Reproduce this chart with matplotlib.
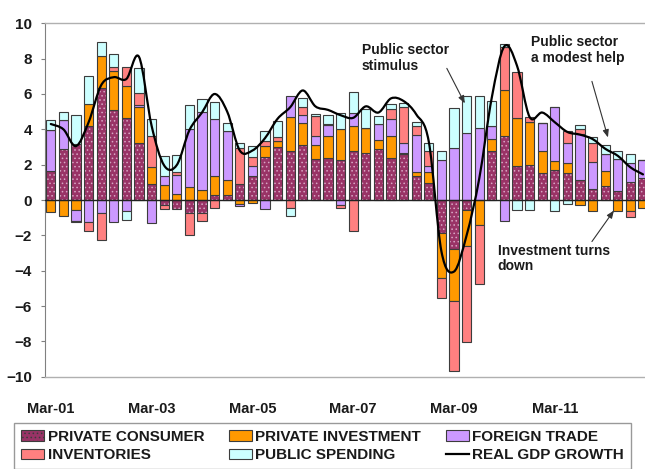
import matplotlib
matplotlib.use("Agg")
import matplotlib.pyplot as plt
from matplotlib.patches import Patch, PathPatch
from matplotlib.lines import Line2D
from matplotlib.path import Path

plt.rcParams["font.family"] = ["Liberation Sans", "DejaVu Sans"]
plt.rcParams["hatch.linewidth"] = 0.6

# Quarterly contributions to real GDP growth (percentage points), Mar-01 .. Dec-12
quarters = [f"{m}-{y:02d}" for y in range(1, 13) for m in ("Mar", "Jun", "Sep", "Dec")]
tick_labels = ["Mar-01", "Mar-03", "Mar-05", "Mar-07", "Mar-09", "Mar-11"]

private_consumer = [1.62, 2.89, 3.15, 4.21, 6.34, 5.12, 4.62, 3.20, 0.92, -0.30, -0.50, -0.72,
                    -0.73, 0.30, 0.30, 0.88, 1.38, 2.45, 2.98, 2.77, 3.10, 2.33, 2.35, 2.29,
                    2.77, 2.67, 2.90, 2.35, 2.60, 1.35, 0.96, -1.86, -2.80, -0.55, 0.00, 2.78,
                    3.60, 1.92, 2.00, 1.50, 1.72, 1.52, 1.16, 0.62, 0.80, 0.50, 1.00, 1.26]
private_investment = [-0.70, -0.88, -0.58, 1.22, 1.83, 2.18, 1.84, 2.05, 0.95, 0.85, 0.33, 0.73,
                      0.55, 1.05, 0.86, -0.20, -0.17, 0.60, 0.37, 1.90, 1.23, 0.76, 1.30, 1.75,
                      1.40, 1.42, 0.50, 1.25, 0.05, 0.25, 0.64, -2.55, -2.90, -2.07, -1.40, 0.65,
                      2.65, 2.70, 2.40, 1.28, 0.50, 0.58, -0.26, -0.64, 0.85, -0.60, -0.64, -0.45]
foreign_trade = [2.36, 1.66, -0.62, -1.22, -0.76, -1.25, -0.60, 0.15, -1.30, 0.50, 1.08, 3.30,
                 4.45, 3.25, 2.74, -0.15, 0.52, -0.49, 0.00, 1.22, 0.50, 0.52, 0.60, -0.28,
                 0.75, 0.00, 0.90, 1.00, 0.60, 2.10, 0.32, 2.28, 2.94, 3.79, 4.08, 0.78,
                 -1.20, 0.00, 0.00, 1.55, 3.05, 1.15, 2.55, 1.53, 0.93, 1.80, 1.10, 0.98]
inventories = [0.00, 0.00, -0.05, -0.55, -1.48, 0.25, 1.08, 0.65, 1.73, -0.22, 0.20, -1.25,
               -0.47, -0.45, 0.00, 2.08, 0.53, 0.28, 0.20, -0.45, 0.45, 1.14, 0.05, -0.18,
               -1.77, 0.00, 0.00, 0.53, 2.00, 0.47, 0.87, -1.13, -3.95, -5.44, -3.33, 0.00,
               2.40, 2.65, 0.30, 0.05, 0.00, 0.65, 0.32, 1.10, 0.00, 0.00, -0.32, 0.00]
public_spending = [0.53, 0.43, 1.64, 1.57, 0.77, 0.72, -0.55, 1.40, 1.00, 1.15, 0.93, 1.35,
                   0.72, 0.95, 0.47, 0.28, 0.60, 0.60, 0.90, -0.43, 0.50, 0.13, 0.50, 0.90,
                   1.20, 1.05, 0.47, 0.32, 0.25, 0.23, 0.45, 0.47, 2.27, 2.11, 1.80, 1.38,
                   0.20, -0.55, -0.58, 0.00, -0.62, -0.23, 0.20, 0.33, 0.52, 0.47, 0.52, 0.00]
real_gdp_growth = [4.30, 4.00, 3.05, 4.40, 6.50, 6.95, 6.85, 8.10, 4.20, 1.95, 1.98, 3.95,
                   4.95, 6.00, 5.00, 2.80, 2.80, 3.50, 4.60, 5.25, 6.20, 5.30, 5.10, 4.80,
                   4.65, 5.30, 4.95, 5.75, 5.60, 4.85, 3.30, -2.90, -4.05, -2.00, 1.20, 5.80,
                   8.70, 7.60, 4.70, 4.95, 4.40, 3.85, 3.70, 3.45, 2.90, 2.50, 1.85, 1.45]

series = [
    ("PRIVATE CONSUMER", private_consumer, "#993366"),
    ("PRIVATE INVESTMENT", private_investment, "#FF9900"),
    ("FOREIGN TRADE", foreign_trade, "#CC99FF"),
    ("INVENTORIES", inventories, "#FF8080"),
    ("PUBLIC SPENDING", public_spending, "#CCFFFF"),
]
EDGE = "#3c3c3c"
DOTS = "#d8a6c4"

fig = plt.figure(figsize=(6.45, 4.69), dpi=100)
W, H = 645, 469
ax = fig.add_axes([44.5 / W, (H - 376.7) / H, (649.3 - 44.5) / W, (376.7 - 23.3) / H])

x = list(range(len(quarters)))
width = 0.72
pos_base = [0.0] * len(x)
neg_base = [0.0] * len(x)
for name, vals, color in series:
    bottoms = []
    for i, v in enumerate(vals):
        if v >= 0:
            bottoms.append(pos_base[i])
            pos_base[i] += v
        else:
            bottoms.append(neg_base[i])
            neg_base[i] += v
    if name == "PRIVATE CONSUMER":
        # dotted pattern fill, then a separate dark outline
        ax.bar(x, vals, width, bottom=bottoms, color=color, hatch="....",
               edgecolor=DOTS, linewidth=0, zorder=2)
        ax.bar(x, vals, width, bottom=bottoms, fill=False, edgecolor=EDGE,
               linewidth=0.8, zorder=3)
    else:
        ax.bar(x, vals, width, bottom=bottoms, color=color, edgecolor=EDGE,
               linewidth=0.8, zorder=3)

ax.axhline(0, color="#222222", linewidth=1.0, zorder=4)

# smoothed GDP growth line (Catmull-Rom segments as cubic Bezier curves)
pts = list(zip(x, real_gdp_growth))
verts = [pts[0]]
codes = [Path.MOVETO]
n = len(pts)
for i in range(n - 1):
    p0 = pts[i - 1] if i > 0 else pts[i]
    p1 = pts[i]
    p2 = pts[i + 1]
    p3 = pts[i + 2] if i + 2 < n else pts[i + 1]
    c1 = (p1[0] + (p2[0] - p0[0]) / 6, p1[1] + (p2[1] - p0[1]) / 6)
    c2 = (p2[0] - (p3[0] - p1[0]) / 6, p2[1] - (p3[1] - p1[1]) / 6)
    verts += [c1, c2, p2]
    codes += [Path.CURVE4] * 3
ax.add_patch(PathPatch(Path(verts, codes), fill=False, edgecolor="black",
                       linewidth=1.6, zorder=5, capstyle="round", joinstyle="round"))

ax.set_xlim(-0.5, len(x) - 0.5)
ax.set_ylim(-10, 10)
ax.set_yticks(range(-10, 11, 2))
ax.set_xticks([quarters.index(t) for t in tick_labels])
ax.set_xticklabels(tick_labels)
ax.tick_params(axis="x", length=0, pad=18, labelsize=10.5, labelcolor="#1a1a1a")
ax.tick_params(axis="y", length=3, width=0.8, color="#808080", pad=6,
               labelsize=11, labelcolor="#1a1a1a")
for lab in ax.get_xticklabels() + ax.get_yticklabels():
    lab.set_fontweight("bold")
ax.spines["right"].set_visible(False)
ax.spines["left"].set_color("#808080")
for s in ("top", "bottom"):
    ax.spines[s].set_color("#b0b0b0")
    ax.spines[s].set_linewidth(1.0)

note_kw = dict(fontsize=10, fontweight="bold", color="#1a1a1a", va="top", ha="left",
               linespacing=1.15, zorder=6)
arrow_kw = dict(arrowstyle="-|>,head_length=0.45,head_width=0.18", color="#333333",
                lw=0.8, shrinkA=0, shrinkB=0)

def px(xp, yp):
    return ((xp - 51.3) / 12.59, (200.5 - yp) / 17.65)

ax.text(*px(362, 44), "Public sector\nstimulus", **note_kw)
ax.annotate("", xy=px(465, 104), xytext=px(447, 69), arrowprops=arrow_kw, zorder=6)
ax.text(*px(531, 36), "Public sector\na modest help", **note_kw)
ax.annotate("", xy=px(608, 138), xytext=px(592, 82), arrowprops=arrow_kw, zorder=6)
ax.text(*px(498, 244), "Investment turns\ndown", **note_kw)
ax.annotate("", xy=px(614, 211), xytext=px(592, 242), arrowprops=arrow_kw, zorder=6)

handles = [
    Patch(facecolor="#993366", edgecolor=EDGE, hatch="....", linewidth=0.8),
    Patch(facecolor="#FF8080", edgecolor=EDGE, linewidth=0.8),
    Patch(facecolor="#FF9900", edgecolor=EDGE, linewidth=0.8),
    Patch(facecolor="#CCFFFF", edgecolor=EDGE, linewidth=0.8),
    Patch(facecolor="#CC99FF", edgecolor=EDGE, linewidth=0.8),
    Line2D([], [], color="black", linewidth=1.6),
]
labels = ["PRIVATE CONSUMER", "INVENTORIES", "PRIVATE INVESTMENT", "PUBLIC SPENDING",
          "FOREIGN TRADE", "REAL GDP GROWTH"]
leg = fig.legend(handles, labels, ncol=3, loc="upper left",
                 bbox_to_anchor=(14 / W, 1 - 423 / H), bbox_transform=fig.transFigure,
                 borderaxespad=0, frameon=True, fancybox=False, edgecolor="#808080",
                 prop={"weight": "bold", "size": 11}, handlelength=1.5, handleheight=0.7,
                 handletextpad=0.25, columnspacing=1.6, labelspacing=0.3, borderpad=0.45)
leg.get_frame().set_linewidth(1.0)
for t in leg.get_texts():
    t.set_color("#1a1a1a")

fig.savefig("out.png", dpi=100, facecolor="white")
